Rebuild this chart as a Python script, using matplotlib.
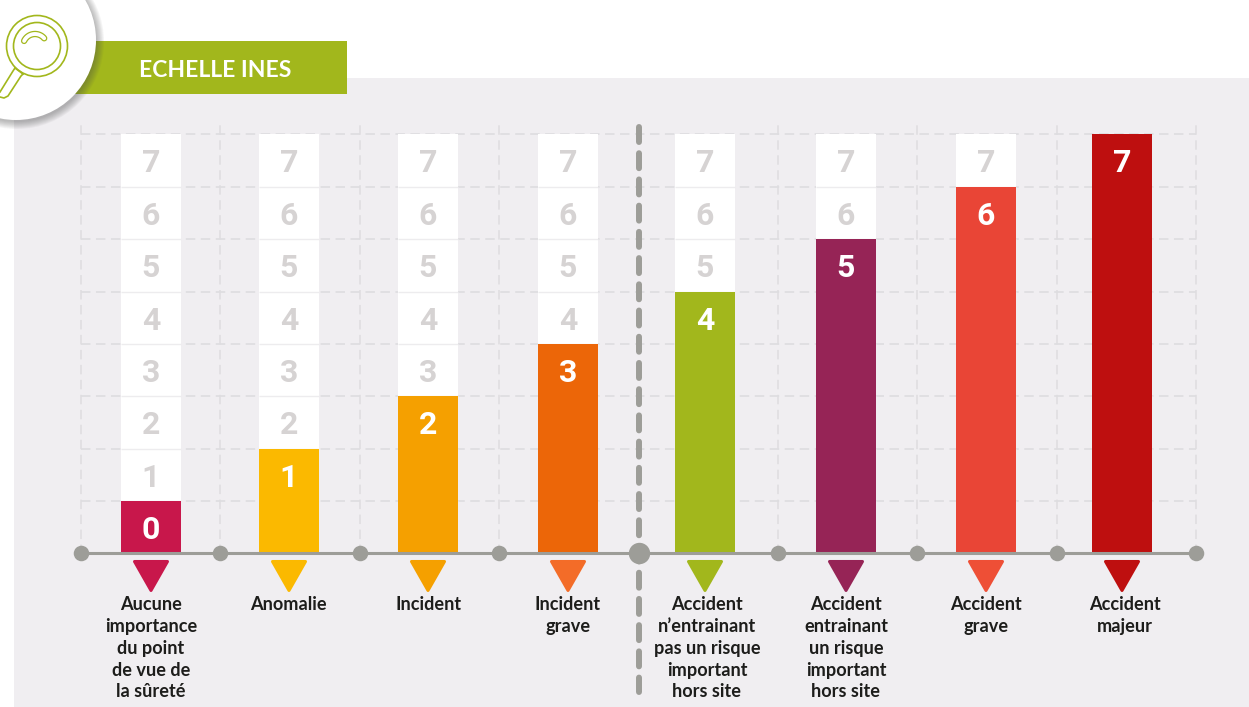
import numpy as np
import matplotlib
matplotlib.use("Agg")
import matplotlib.pyplot as plt
from matplotlib.patches import Circle, Rectangle

# INES scale, one column per level
levels = [0, 1, 2, 3, 4, 5, 6, 7]
labels = [
    "Aucune\nimportance\ndu point\nde vue de\nla sûreté",
    "Anomalie",
    "Incident",
    "Incident\ngrave",
    "Accident\nn’entrainant\npas un risque\nimportant\nhors site",
    "Accident\nentrainant\nun risque\nimportant\nhors site",
    "Accident\ngrave",
    "Accident\nmajeur",
]
bar_colors = ["#C8174B", "#FBB900", "#F5A000", "#EC6608", "#A2B71C", "#962456", "#E94536", "#BE0F0F"]
tri_colors = ["#C8174B", "#FBB900", "#F5A000", "#F36C28", "#A2B71C", "#962456", "#EE4F36", "#BE0F0F"]
title = "ECHELLE INES"

# layout, in pixels of the saved figure
W, H = 1249, 707
BASE = 553.5
UNIT = 52.4
bar_x = [151, 289, 428, 568, 705, 846, 986, 1122]
label_x = [151, 288.5, 428.5, 568, 707, 846, 986, 1125]
grid_x = [81, 220.5, 360, 499.5, 778, 917.5, 1057, 1196]
SPLIT_X = 639
BAR_W = 60
GREEN = "#A2B71C"
PANEL = "#F0EEF1"
GREY = "#9D9D98"


def py(y):
    # pixel row -> value on the y axis
    return (BASE - y) / UNIT


fig = plt.figure(figsize=(W / 100, H / 100), dpi=100)
ax = fig.add_axes([0, 0, 1, 1])
ax.set_xlim(0, W)
ax.set_ylim(py(H), py(0))
ax.axis("off")

ax.add_patch(Rectangle((14, py(H)), W - 14, py(78) - py(H), fc=PANEL, ec="none", zorder=0))

# dashed grid
for v in range(0, 9):
    ax.plot([81, 1196], [v, v], color="#DCDBDE", lw=1.1, dashes=(6.2, 3.6), zorder=1)
for x in grid_x:
    ax.plot([x, x], [0, py(124)], color="#DEDDE0", lw=1.1, dashes=(6.2, 3.6), zorder=1)

# white columns with the greyed numbers, then the coloured bar over them
for x, level, color in zip(bar_x, levels, bar_colors):
    ax.bar([x] * 8, [1] * 8, bottom=list(range(8)), width=BAR_W, color="white", zorder=2)
    ax.hlines(range(1, 8), x - BAR_W / 2, x + BAR_W / 2, color="#EDECEE", lw=1, zorder=2.5)
    for n in range(level + 1, 8):
        ax.text(x, n + 0.5, str(n), ha="center", va="center_baseline", color="#D6D3D3",
                fontsize=23, family="Roboto", weight="bold", zorder=3)
    ax.bar(x, level + 1, width=BAR_W, color=color, zorder=3)
    ax.text(x, level + 0.5, str(level), ha="center", va="center_baseline", color="white",
            fontsize=23, family="Roboto", weight="bold", zorder=4)

# axis line and its dots
AXIS_Y = py(553)
ax.plot([81, 1196], [AXIS_Y, AXIS_Y], color=GREY, lw=2.2, zorder=5, solid_capstyle="butt")
ax.scatter(grid_x, [AXIS_Y] * len(grid_x), s=125, color=GREY, linewidths=0, zorder=6)
ax.plot([SPLIT_X, SPLIT_X], [py(126.5), py(692)], color=GREY, lw=4.3, dashes=(2.51, 1.88),
        dash_capstyle="round", zorder=6)
ax.scatter([SPLIT_X], [AXIS_Y], s=237, color=GREY, linewidths=0, zorder=7)

# triangles and captions under the axis
for x, tx, color, label in zip(bar_x, label_x, tri_colors, labels):
    ax.fill([x - 16.5, x + 16.5, x], [py(561.5), py(561.5), py(590.5)], fc=color, ec=color,
            lw=2.2, joinstyle="round", zorder=4)
    ax.text(tx, py(596.5), label, ha="center", va="top", color="#1D1D1B", fontsize=13.1,
            family="Lato", weight="bold", linespacing=1.335, zorder=4)

# title band
ax.add_patch(Rectangle((70, py(94)), 277, py(41) - py(94), fc=GREEN, ec="none", zorder=8))
ax.text(215, py(68.5), title, ha="center", va="center_baseline", color="white", fontsize=16.5,
        family="Lato", weight="bold", zorder=12)

# Everything below is round, so it goes on an overlay with equal pixel units
ov = fig.add_axes([0, 0, 1, 1])
ov.set_xlim(0, W)
ov.set_ylim(H, 0)
ov.axis("off")
ov.patch.set_alpha(0)

# soft shadow under the badge
for r in np.arange(87, 79, -1):
    ov.add_patch(Circle((17, 42), r, fc="#4A4A4A", ec="none", alpha=0.055, zorder=1))
ov.add_patch(Circle((16, 40), 80, fc="white", ec="none", zorder=2))

# magnifying glass
ov.add_patch(Circle((37, 46), 30.5, fc="none", ec=GREEN, lw=1.2, zorder=3))
ov.add_patch(Circle((37, 46), 23.5, fc="none", ec=GREEN, lw=1.2, zorder=3))
ov.plot([15, 13, 0], [68, 71, 92], color=GREEN, lw=1.2, zorder=3, solid_joinstyle="round")
ov.plot([23, 21, 8, 4, 0], [74, 76, 96, 98, 97], color=GREEN, lw=1.2, zorder=3, solid_joinstyle="round")
ov.plot([15, 23], [68, 74], color=GREEN, lw=1.2, zorder=3)

# highlight in the lens: a thick arc hollowed out with a thinner white one
theta = np.radians(np.linspace(205, 320, 30))
arc_x = 35 + 12 * np.cos(theta)
arc_y = 46 + 12 * np.sin(theta)
ov.plot(arc_x, arc_y, color=GREEN, lw=4.6, solid_capstyle="round", zorder=3)
ov.plot(arc_x, arc_y, color="white", lw=2.8, solid_capstyle="round", zorder=4)

fig.savefig("out.png", dpi=100, facecolor="white")
